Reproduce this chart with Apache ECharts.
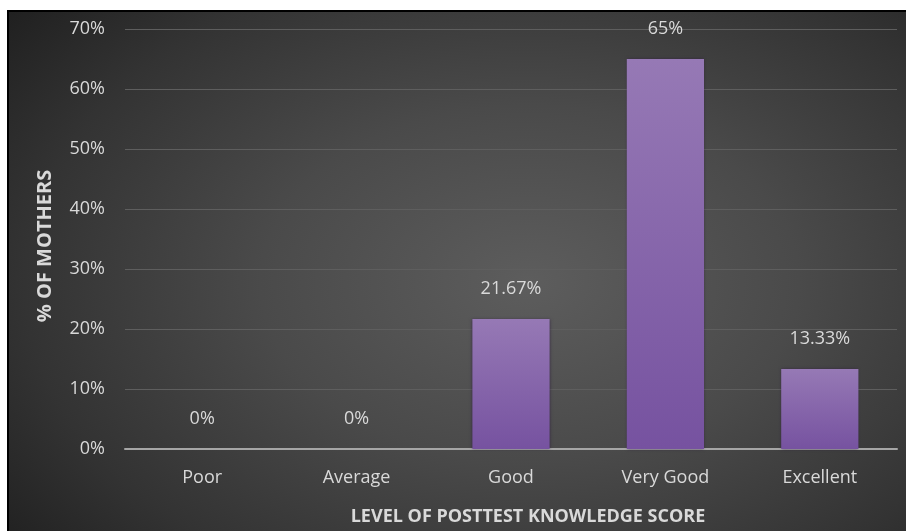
<!DOCTYPE html>
<html>
<head>
<meta charset="utf-8">
<script src="https://cdn.jsdelivr.net/npm/echarts@6/dist/echarts.min.js"></script>
<style>
html,body{margin:0;padding:0;background:#fff;}
#wrap{position:absolute;left:7px;top:10px;width:898px;height:520px;border-left:2px solid #000;border-top:2px solid #000;
background:radial-gradient(ellipse 75% 85% at 58% 52%, #5d5d5d 0%, #4a4a4a 40%, #333 75%, #1f1f1f 100%);}
#chart{width:898px;height:520px;}
</style>
</head>
<body>
<div id="wrap"><div id="chart"></div></div>
<script>
const categories = ['Poor', 'Average', 'Good', 'Very Good', 'Excellent'];
const values = [0, 0, 21.67, 65, 13.33];
const yTicks = [0, 10, 20, 30, 40, 50, 60, 70];
const yTitle = '% OF MOTHERS';
const xTitle = 'LEVEL OF POSTTEST KNOWLEDGE SCORE';

const font = '"Open Sans", "Noto Sans", sans-serif';
const chart = echarts.init(document.getElementById('chart'), null, {renderer: 'canvas'});
chart.setOption({
  backgroundColor: 'transparent',
  animation: false,
  grid: {left: 116, right: 10, top: 17, bottom: 83, outerBoundsMode: 'none'},
  xAxis: {
    type: 'category',
    data: categories,
    name: xTitle,
    nameLocation: 'middle',
    nameGap: 59,
    nameTextStyle: {color: '#d9d9d9', fontSize: 18, fontWeight: 'bold', fontFamily: font, padding: [0, 0, 0, 34]},
    axisLine: {lineStyle: {color: '#a6a6a6', width: 2}},
    axisTick: {show: false},
    axisLabel: {color: '#d9d9d9', fontSize: 18, fontFamily: font, margin: 20}
  },
  yAxis: {
    type: 'value',
    min: yTicks[0],
    max: yTicks[yTicks.length - 1],
    interval: 10,
    name: yTitle,
    nameLocation: 'middle',
    nameGap: 70,
    nameTextStyle: {color: '#d9d9d9', fontSize: 20, fontWeight: 'bold', fontFamily: font, padding: [0, 14, 0, 0]},
    axisLine: {show: false},
    axisTick: {show: false},
    axisLabel: {color: '#d9d9d9', fontSize: 18, fontFamily: font, margin: 20, formatter: v => v + '%'},
    splitLine: {lineStyle: {color: '#5e5e5e', width: 1}}
  },
  series: [{
    type: 'bar',
    data: values,
    barWidth: '50%',
    itemStyle: {
      color: new echarts.graphic.LinearGradient(0, 0, 0, 1, [
        {offset: 0, color: '#9679b5'},
        {offset: 1, color: '#7652a0'}
      ]),
      shadowColor: 'rgba(40,20,60,0.6)',
      shadowBlur: 3
    },
    label: {
      show: true,
      position: 'top',
      distance: 21,
      color: '#d9d9d9',
      fontSize: 18,
      fontFamily: font,
      formatter: p => p.value + '%'
    }
  }]
});
</script>
</body>
</html>
